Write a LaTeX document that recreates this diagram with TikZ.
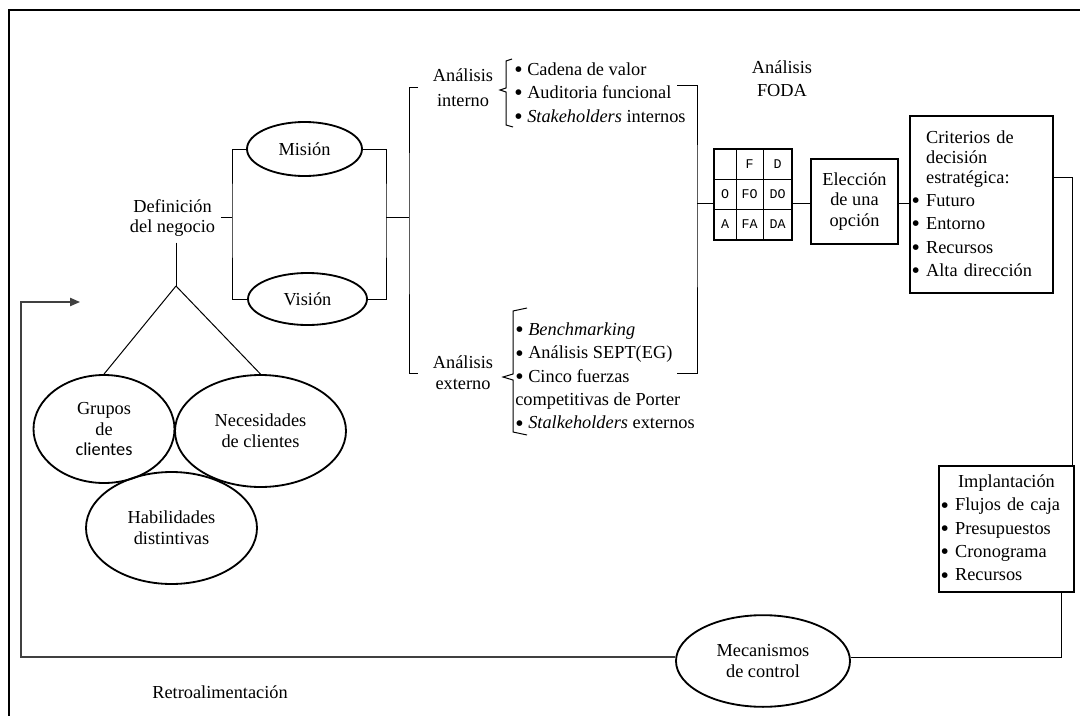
\documentclass[tikz,border=0pt]{standalone}
\usepackage{fontspec}
\usepackage{graphicx}
\setmainfont{Liberation Serif}
\newfontfamily\calibri{Carlito}
\newfontfamily\maquina{Liberation Mono}
\usetikzlibrary{arrows.meta,shapes.geometric}
\newcommand{\pto}{\raisebox{-0.25ex}{\scalebox{1.3}{\textbullet}}}

\begin{document}
\begin{tikzpicture}[x=0.6pt,y=-0.6pt,font=\fontsize{11}{12.5}\selectfont,>=Latex,
ovalo/.style={draw,ellipse,line width=1.1pt,align=center,inner sep=0pt},
caja/.style={draw,line width=1.1pt,inner sep=1pt},
lista/.style={align=left,anchor=west,inner sep=0pt,font=\fontsize{11}{14}\selectfont},
linea/.style={line width=0.6pt},
retro/.style={line width=0.8pt,black!75},
celda/.style={font=\maquina\fontsize{8}{9}\selectfont,inner sep=0pt}]
\useasboundingbox (0,0) rectangle (1080,716);
\draw[line width=1.2pt] (9,716) -- (9,10) -- (1080,10);
% definicion del negocio
\node[align=center] (def) at (172.5,218) {Definición\\del negocio};
\node[ovalo,minimum width=69pt,minimum height=32.4pt] (mision) at (304.5,149) {Misión};
\node[ovalo,minimum width=71.4pt,minimum height=31.2pt] (vision) at (307.5,299) {Visión};
\node[ovalo,minimum width=84.6pt,minimum height=64.8pt] (grupos) at (104,429) {Grupos\\de\\{\calibri clientes}};
\node[ovalo,minimum width=102.6pt,minimum height=67.2pt] (necesidades) at (260.5,431) {Necesidades\\de clientes};
\node[ovalo,minimum width=102.6pt,minimum height=67.2pt] (habilidades) at (171.5,528) {Habilidades\\distintivas};
% analisis
\node[align=center,font=\fontsize{11}{15}\selectfont] (ainterno) at (463,87.5) {Análisis\\interno};
\node[align=center] (aexterno) at (463,372.5) {Análisis\\externo};
\node[lista] (linterno) at (514,93.5) {\pto\ Cadena de valor\\\pto\ Auditoria funcional\\\pto\ \textit{Stakeholders} internos};
\node[lista] (lexterno) at (515,377) {\pto\ \textit{Benchmarking}\\\pto\ Análisis SEPT(EG)\\\pto\ Cinco fuerzas\\competitivas de Porter\\\pto\ \textit{Stalkeholders} externos};
\draw[linea] (512,59) -- (506,61) -- (506,88) -- (500,90) -- (506,92) -- (506,125) -- (513,127);
\draw[linea] (527,308) -- (513,311) -- (513,374) -- (503,377) -- (513,380) -- (513,432) -- (527,435);
% FODA
\node[align=center,font=\fontsize{11}{14}\selectfont] (afoda) at (782,78.5) {Análisis\\FODA};
\node[draw,line width=0.8pt,minimum width=46.8pt,minimum height=54.6pt,inner sep=0pt] (foda) at (753,194.5) {};
\foreach \x in {736,763} \draw[linea] (\x,149) -- (\x,240);
\foreach \y in {179,209} \draw[linea] (714,\y) -- (792,\y);
\foreach \t/\x/\y in {F/749.5/164,D/777.5/164,O/725/194,FO/749.5/194,DO/777.5/194,A/725/224.5,FA/749.5/224.5,DA/777.5/224.5}
  \node[celda] (c\t) at (\x,\y) {\t};
\node[caja,align=center,minimum width=52.2pt,minimum height=51pt] (eleccion) at (854.5,201.5) {Elección\\de una\\opción};
\node[caja,align=left,text width=83.8pt,minimum height=106.2pt,font=\fontsize{11}{14}\selectfont] (criterios) at (981.5,204.5)
  {\phantom{\pto\ }Criterios de\\[-2pt]\phantom{\pto\ }decisión\\[-2pt]\phantom{\pto\ }estratégica:\\\pto\ Futuro\\\pto\ Entorno\\\pto\ Recursos\\\pto\ Alta dirección};
\node[caja,align=left,text width=79pt,minimum height=75.6pt,font=\fontsize{11}{14}\selectfont] (implant) at (1006.5,529)
  {\makebox[79pt]{Implantación}\\\pto\ Flujos de caja\\\pto\ Presupuestos\\\pto\ Cronograma\\\pto\ Recursos};
\node[ovalo,minimum width=104.4pt,minimum height=55pt] (mecanismos) at (763,661) {Mecanismos\\de control};
\node (retroal) at (220,692) {Retroalimentación};
% conectores
\coordinate (mvl) at (232,217);
\coordinate (mvr) at (386,217);
\coordinate (bigl) at (409,217);
\coordinate (bl1) at (418,87);
\coordinate (bl2) at (418,373);
\coordinate (bigr) at (697,203);
\coordinate (br1) at (677,85);
\coordinate (br2) at (677,373);
\coordinate (apex) at (176,286);
\coordinate (cr) at (1072,177);
\coordinate (ir) at (1061,657);
\coordinate (fb) at (21,302);
\coordinate (fbtip) at (80,302);
\draw[linea] (mvl -| def.east) -- (mvl);
\draw[linea] (mision.west) -| (mvl) |- (vision.west);
\draw[linea] (mision.east) -| (mvr) |- (vision.east);
\draw[linea] (mvr) -- (bigl);
\draw[linea] (bl1) -| (bigl) |- (bl2);
\draw[linea] (br1) -| (bigr) |- (br2);
\draw[linea] (bigr) -- (bigr -| foda.west);
\draw[linea] (foda.east |- bigr) -- (eleccion.west |- bigr);
\draw[linea] (eleccion.east |- bigr) -- (criterios.west |- bigr);
\draw[linea] (criterios.east |- cr) -- (cr) -- (cr |- implant.north);
\draw[linea] (implant.south -| ir) -- (ir) -- (mecanismos.east |- ir);
\draw[retro,-{Triangle[length=6pt,width=5pt]}] (mecanismos.west |- ir) -| (fb) -- (fbtip);
\draw[linea] (def.south -| apex) -- (apex);
\draw[linea] (apex) -- (grupos.north);
\draw[linea] (apex) -- (necesidades.north);
\end{tikzpicture}
\end{document}
